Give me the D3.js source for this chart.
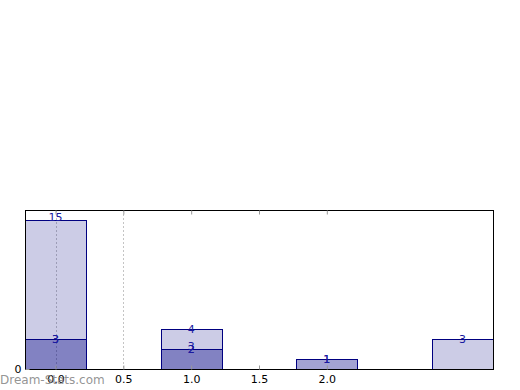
<!DOCTYPE html>
<html>
<head>
<meta charset="utf-8">
<script src="https://cdn.jsdelivr.net/npm/d3@7"></script>
<style>
  body { margin: 0; background: #fff; }
  svg { font-family: "DejaVu Sans", sans-serif; }
</style>
</head>
<body>
<div id="chart"></div>
<script>
// data
const positions = [0, 1, 2, 3];
const seriesA = [15, 4, 0, 3];
const seriesB = [3, 2, 1, 0];
const seriesC = [3, 2, 1, 0];
const xTicks = [0, 0.5, 1.0, 1.5, 2.0];
const gridTicks = [0, 0.5];
const yTicks = [0];
const extraLabels = [{x: 1, y: 2.3, text: "3"}];

const width = 520, height = 390;
const margin = {top: 210, right: 27, bottom: 21, left: 25};

const svg = d3.select("#chart").append("svg")
    .attr("width", width)
    .attr("height", height);

const x = d3.scaleLinear()
    .domain([-0.225, 3.225])
    .range([margin.left, width - margin.right]);
const y = d3.scaleLinear()
    .domain([0, 16])
    .range([height - margin.bottom, margin.top]);

const barW = 0.45;

// grid
svg.selectAll(".grid")
    .data(gridTicks)
    .enter().append("line")
    .attr("x1", d => Math.round(x(d)) + 0.5)
    .attr("x2", d => Math.round(x(d)) + 0.5)
    .attr("y1", y(16))
    .attr("y2", y(0))
    .attr("stroke", "#c4c4c4")
    .attr("stroke-dasharray", "2,2");

// bars, each series drawn with alpha so overlaps darken
const allSeries = [seriesA, seriesB, seriesC];
allSeries.forEach(function(s){
    svg.append("g").selectAll("rect")
        .data(positions.map((p, i) => ({p: p, v: s[i]})).filter(d => d.v > 0))
        .enter().append("rect")
        .attr("x", d => Math.round(x(d.p - barW / 2)) + 0.5)
        .attr("y", d => Math.round(y(d.v)) + 0.5)
        .attr("width", d => Math.round(x(d.p + barW / 2)) - Math.round(x(d.p - barW / 2)))
        .attr("height", d => Math.round(y(0)) - Math.round(y(d.v)))
        .attr("fill", "rgba(0,0,128,0.2)")
        .attr("stroke", "#000080")
        .attr("stroke-width", 1);
});

// value labels (the tallest one sits just above the bar top)
const maxV = d3.max(seriesA);
allSeries.forEach(function(s){
    svg.append("g").selectAll("text")
        .data(positions.map((p, i) => ({p: p, v: s[i]})).filter(d => d.v > 0))
        .enter().append("text")
        .attr("x", d => x(d.p))
        .attr("y", d => y(d.v) + (d.v === maxV ? 1 : 4))
        .attr("text-anchor", "middle")
        .attr("font-size", 11)
        .attr("fill", "#1a1aa0")
        .text(d => d.v);
});
svg.append("g").selectAll("text")
    .data(extraLabels)
    .enter().append("text")
    .attr("x", d => x(d.x))
    .attr("y", d => y(d.y) + 4)
    .attr("text-anchor", "middle")
    .attr("font-size", 11)
    .attr("fill", "#1a1aa0")
    .text(d => d.text);

// frame
svg.append("rect")
    .attr("x", margin.left + 0.5)
    .attr("y", margin.top + 0.5)
    .attr("width", width - margin.left - margin.right)
    .attr("height", height - margin.top - margin.bottom)
    .attr("fill", "none")
    .attr("stroke", "#000");

// x ticks (inward, top and bottom)
const xAxisB = d3.axisBottom(x).tickValues(xTicks).tickFormat(d3.format(".1f"))
    .tickSizeInner(-4).tickSizeOuter(0).tickPadding(6);
const gb = svg.append("g")
    .attr("transform", "translate(0," + (y(0) + 0.5) + ")")
    .call(xAxisB);
gb.select(".domain").remove();
gb.selectAll(".tick line").attr("stroke", "#999");
gb.selectAll(".tick text").attr("font-size", 11).attr("fill", "#000")
    .attr("font-family", "DejaVu Sans");

const xAxisT = d3.axisTop(x).tickValues(xTicks).tickFormat("")
    .tickSizeInner(-4).tickSizeOuter(0);
const gt = svg.append("g")
    .attr("transform", "translate(0," + (margin.top + 0.5) + ")")
    .call(xAxisT);
gt.select(".domain").remove();
gt.selectAll(".tick line").attr("stroke", "#999");

// y axis: only zero label
const yAxis = d3.axisLeft(y).tickValues(yTicks).tickSizeInner(-4).tickSizeOuter(0).tickPadding(4);
const gy = svg.append("g")
    .attr("transform", "translate(" + (margin.left + 0.5) + ",0)")
    .call(yAxis);
gy.select(".domain").remove();
gy.selectAll(".tick line").attr("stroke", "#999");
gy.selectAll(".tick text").attr("font-size", 11).attr("fill", "#000")
    .attr("font-family", "DejaVu Sans");

// watermark
svg.append("text")
    .attr("x", 0)
    .attr("y", 384)
    .attr("font-size", 12)
    .attr("fill", "#888")
    .attr("fill-opacity", 0.9)
    .text("Dream-Stats.com");
</script>
</body>
</html>
